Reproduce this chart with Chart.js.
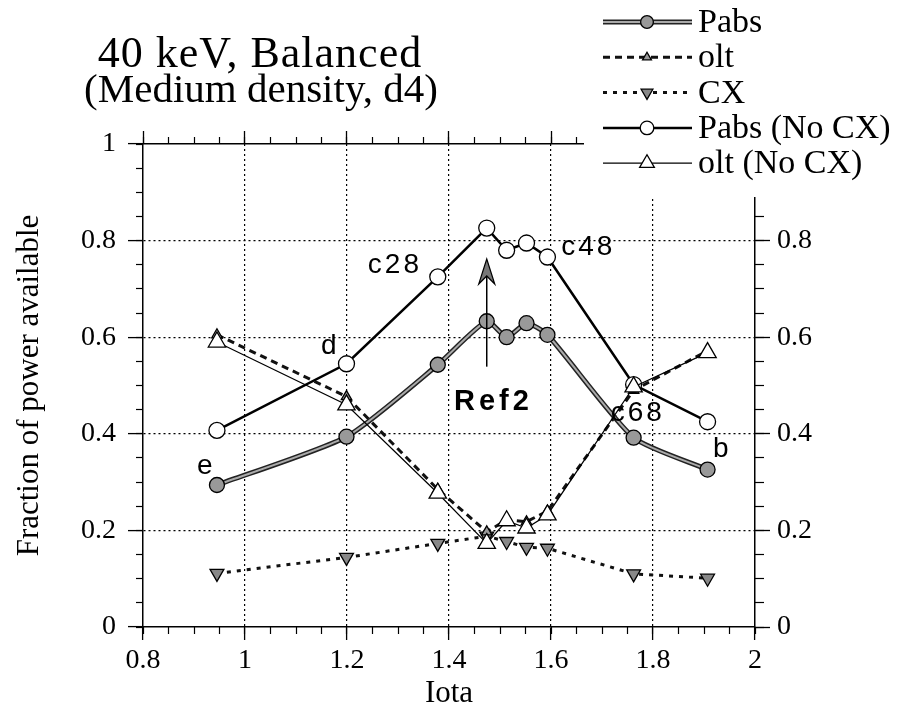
<!DOCTYPE html>
<html>
<head>
<meta charset="utf-8">
<script src="https://cdn.jsdelivr.net/npm/chart.js@4.4.1/dist/chart.umd.min.js"></script>
<style>
  body { margin: 0; background: #fff; }
</style>
</head>
<body>
<canvas id="fig" width="911" height="716"></canvas>
<script>
// values
var iota     = [0.945, 1.199, 1.378, 1.474, 1.513, 1.552, 1.593, 1.762, 1.907];
var pabs     = [0.294, 0.394, 0.543, 0.633, 0.600, 0.629, 0.605, 0.392, 0.326];
var olt      = [0.605, 0.477, 0.285, 0.197, 0.222, 0.218, 0.240, 0.490, 0.572];
var cx       = [0.111, 0.144, 0.173, 0.188, 0.177, 0.165, 0.163, 0.110, 0.101];
var pabsNoCx = [0.407, 0.545, 0.725, 0.826, 0.780, 0.795, 0.766, 0.502, 0.425];
var oltNoCx  = [0.590, 0.460, 0.277, 0.173, 0.220, 0.205, 0.232, 0.497, 0.568];

var xTicks = [0.8, 1, 1.2, 1.4, 1.6, 1.8, 2];
var yTicks = [0, 0.2, 0.4, 0.6, 0.8, 1];
var titleLines = ['40 keV, Balanced', '(Medium density, d4)'];
var notes = [
  {t: 'e',   x: 0.924, y: 0.332},
  {t: 'd',   x: 1.167, y: 0.581},
  {t: 'c28', x: 1.294, y: 0.748},
  {t: 'c48', x: 1.673, y: 0.787},
  {t: 'c68', x: 1.770, y: 0.443},
  {t: 'b',   x: 1.936, y: 0.367}
];
var ref = {t: 'Ref2', x: 1.474, y0: 0.539, y1: 0.762, lx: 1.487, ly: 0.465};

var SERIF = '"Liberation Serif", "Times New Roman", serif';
var SANS = '"Liberation Sans", Arial, sans-serif';

function pts(ys) {
  return iota.map(function (x, i) { return {x: x, y: ys[i]}; });
}

var styles = {
  pabs:     {line: '#222', width: 5, inner: '#aaa', dash: [], point: 'circle', r: 7.5, rot: 0, fill: '#999'},
  olt:      {line: '#111', width: 3, dash: [7, 5], point: 'triangle', r: 6, rot: 0, fill: '#999'},
  cx:       {line: '#111', width: 3, dash: [4, 6], point: 'triangle', r: 8, rot: 180, fill: '#888'},
  pabsNoCx: {line: '#000', width: 2.5, dash: [], point: 'circle', r: 8, rot: 0, fill: '#fff'},
  oltNoCx:  {line: '#000', width: 1.2, dash: [], point: 'triangle', r: 10, rot: 0, fill: '#fff'}
};
var legendRows = [
  ['Pabs', styles.pabs], ['olt', styles.olt], ['CX', styles.cx],
  ['Pabs (No CX)', styles.pabsNoCx], ['olt (No CX)', styles.oltNoCx]
];

function lineSet(label, ys, s, order, extra) {
  var d = {
    label: label, data: pts(ys), order: order,
    borderColor: s.line, borderWidth: s.width, borderDash: s.dash,
    pointStyle: s.point, pointRadius: s.r, pointRotation: s.rot,
    pointBackgroundColor: s.fill, pointBorderColor: '#000', pointBorderWidth: 1.3,
    tension: 0, fill: false
  };
  for (var k in extra) d[k] = extra[k];
  return d;
}

var datasets = [
  lineSet('olt (No CX)', oltNoCx, styles.oltNoCx, 0),
  lineSet('Pabs (No CX)', pabsNoCx, styles.pabsNoCx, 1),
  lineSet('Pabs', pabs, styles.pabs, 2, {borderColor: '#aaa', borderWidth: 2, tension: 0.2}),
  lineSet('Pabs edge', pabs, styles.pabs, 3, {pointRadius: 0, tension: 0.2}),
  lineSet('olt', olt, styles.olt, 4),
  lineSet('CX', cx, styles.cx, 5)
];

function fmt(v) { return String(+v.toFixed(2)); }
function setTicks(list) {
  return function (scale) { scale.ticks = list.map(function (v) { return {value: v}; }); };
}
function fixW(w) { return function (s) { s.width = w; }; }
function fixH(h) { return function (s) { s.height = h; }; }
var dotted = {color: '#000', width: 1.5, dash: [2, 3]};

function majorX(pos, extra) {
  var o = {
    type: 'linear', position: pos, min: 0.8, max: 2, weight: 1,
    afterBuildTicks: setTicks(xTicks),
    border: dotted,
    grid: {drawOnChartArea: false, tickLength: 13, tickColor: '#000', tickWidth: 1.3},
    ticks: {display: false}
  };
  for (var k in extra) o[k] = extra[k];
  return o;
}
function minor(pos, axis, len, extra) {
  var o = {
    type: 'linear', axis: axis, position: pos, weight: 0,
    min: axis === 'x' ? 0.8 : 0, max: axis === 'x' ? 2 : 1,
    border: {display: false},
    grid: {drawOnChartArea: false, tickLength: len, tickColor: '#000', tickWidth: 1.2},
    ticks: {display: false, stepSize: 0.05},
    afterFit: axis === 'x' ? fixH(0) : fixW(0)
  };
  for (var k in extra) o[k] = extra[k];
  return o;
}

var gridCol = function (lo, hi) {
  return function (c) {
    var v = c.tick ? c.tick.value : null;
    return (Math.abs(v - lo) < 1e-6 || Math.abs(v - hi) < 1e-6) ? 'rgba(0,0,0,0)' : '#000';
  };
};

var scales = {
  x: majorX('bottom', {
    grid: {color: gridCol(0.8, 2), lineWidth: 1.2, tickLength: 13, tickColor: '#000', tickWidth: 1.3},
    ticks: {display: true, callback: fmt, color: '#000', padding: 4, maxRotation: 0,
            font: {family: SERIF, size: 28}},
    title: {display: true, text: 'Iota', color: '#000', padding: {top: 0, bottom: 4},
            font: {family: SERIF, size: 31}},
    afterFit: fixH(89)
  }),
  xm: minor('bottom', 'x', 7),
  xt: majorX('top', {afterFit: fixH(0)}),
  xtm: minor('top', 'x', 7),
  y: {
    type: 'linear', position: 'left', min: 0, max: 1, weight: 1,
    afterBuildTicks: setTicks(yTicks),
    border: dotted,
    grid: {color: gridCol(0, 1), lineWidth: 1.2, tickLength: 15, tickColor: '#000', tickWidth: 1.3},
    ticks: {callback: fmt, color: '#000', padding: 12, font: {family: SERIF, size: 28}},
    title: {display: true, text: 'Fraction of power available', color: '#000',
            padding: {top: 11, bottom: 0}, font: {family: SERIF, size: 31}},
    afterFit: fixW(143)
  },
  ym: minor('left', 'y', 7),
  y2: {
    type: 'linear', position: 'right', min: 0, max: 1, weight: 1,
    afterBuildTicks: setTicks(yTicks),
    border: dotted,
    grid: {drawOnChartArea: false, tickLength: 15, tickColor: '#000', tickWidth: 1.3},
    ticks: {callback: fmt, color: '#000', padding: 7, font: {family: SERIF, size: 28}},
    afterFit: fixW(156)
  },
  y2m: minor('right', 'y', 9)
};

var paperPlugin = {
  id: 'paper',
  beforeDraw: function (chart) {
    var c = chart.ctx;
    c.save();
    c.fillStyle = '#fff';
    c.fillRect(0, 0, chart.width, chart.height);
    c.restore();
  }
};

var notesPlugin = {
  id: 'notes',
  afterDatasetsDraw: function (chart) {
    var c = chart.ctx, sx = chart.scales.x, sy = chart.scales.y;
    c.save();
    c.fillStyle = '#000';
    c.textAlign = 'center';
    c.textBaseline = 'middle';
    c.font = '28px ' + SANS;
    c.letterSpacing = '3px';
    notes.forEach(function (n) {
      c.fillText(n.t, sx.getPixelForValue(n.x), sy.getPixelForValue(n.y));
    });
    c.font = 'bold 29px ' + SANS;
    c.letterSpacing = '4px';
    c.fillText(ref.t, sx.getPixelForValue(ref.lx), sy.getPixelForValue(ref.ly));
    c.letterSpacing = '0px';
    // arrow to Ref2
    var ax = sx.getPixelForValue(ref.x);
    var ya = sy.getPixelForValue(ref.y0), yb = sy.getPixelForValue(ref.y1);
    c.strokeStyle = '#000';
    c.lineWidth = 1.5;
    c.beginPath();
    c.moveTo(ax, ya);
    c.lineTo(ax, yb + 12);
    c.stroke();
    c.beginPath();
    c.moveTo(ax, yb);
    c.lineTo(ax + 8, yb + 25);
    c.lineTo(ax, yb + 17);
    c.lineTo(ax - 8, yb + 25);
    c.closePath();
    c.fillStyle = '#777';
    c.fill();
    c.lineWidth = 1.2;
    c.stroke();
    c.restore();
  }
};

var headPlugin = {
  id: 'head',
  afterDraw: function (chart) {
    var c = chart.ctx, H = Chart.helpers;
    c.save();
    // legend panel sits over the top-right corner of the frame
    c.fillStyle = '#fff';
    c.fillRect(584, 0, 327, 197);
    c.fillStyle = '#000';
    c.textAlign = 'center';
    c.textBaseline = 'alphabetic';
    c.font = '44px ' + SERIF;
    c.letterSpacing = '1px';
    c.fillText(titleLines[0], 260, 67);
    c.font = '41px ' + SERIF;
    c.letterSpacing = '0px';
    c.fillText(titleLines[1], 261, 102);

    c.textAlign = 'left';
    c.textBaseline = 'middle';
    c.font = '34px ' + SERIF;
    legendRows.forEach(function (row, i) {
      var s = row[1], y = 22 + i * 35.3;
      c.setLineDash(s.dash);
      c.strokeStyle = s.line;
      c.lineWidth = s.width;
      c.beginPath();
      c.moveTo(603, y);
      c.lineTo(692, y);
      c.stroke();
      if (s.inner) {
        c.strokeStyle = s.inner;
        c.lineWidth = 2;
        c.stroke();
      }
      c.setLineDash([]);
      c.fillStyle = s.fill;
      c.strokeStyle = '#000';
      c.lineWidth = 1.3;
      H.drawPoint(c, {pointStyle: s.point, rotation: s.rot, radius: s.r * 0.85, borderWidth: 1.3}, 647, y);
      c.fillStyle = '#000';
      c.fillText(row[0], 698, y + 1);
    });
    c.restore();
  }
};

new Chart(document.getElementById('fig'), {
  type: 'line',
  data: {datasets: datasets},
  options: {
    responsive: false,
    animation: false,
    devicePixelRatio: 1,
    layout: {padding: {top: 144, left: 0, right: 0, bottom: 0}},
    plugins: {legend: {display: false}, tooltip: {enabled: false}},
    scales: scales
  },
  plugins: [paperPlugin, notesPlugin, headPlugin]
});
</script>
</body>
</html>
